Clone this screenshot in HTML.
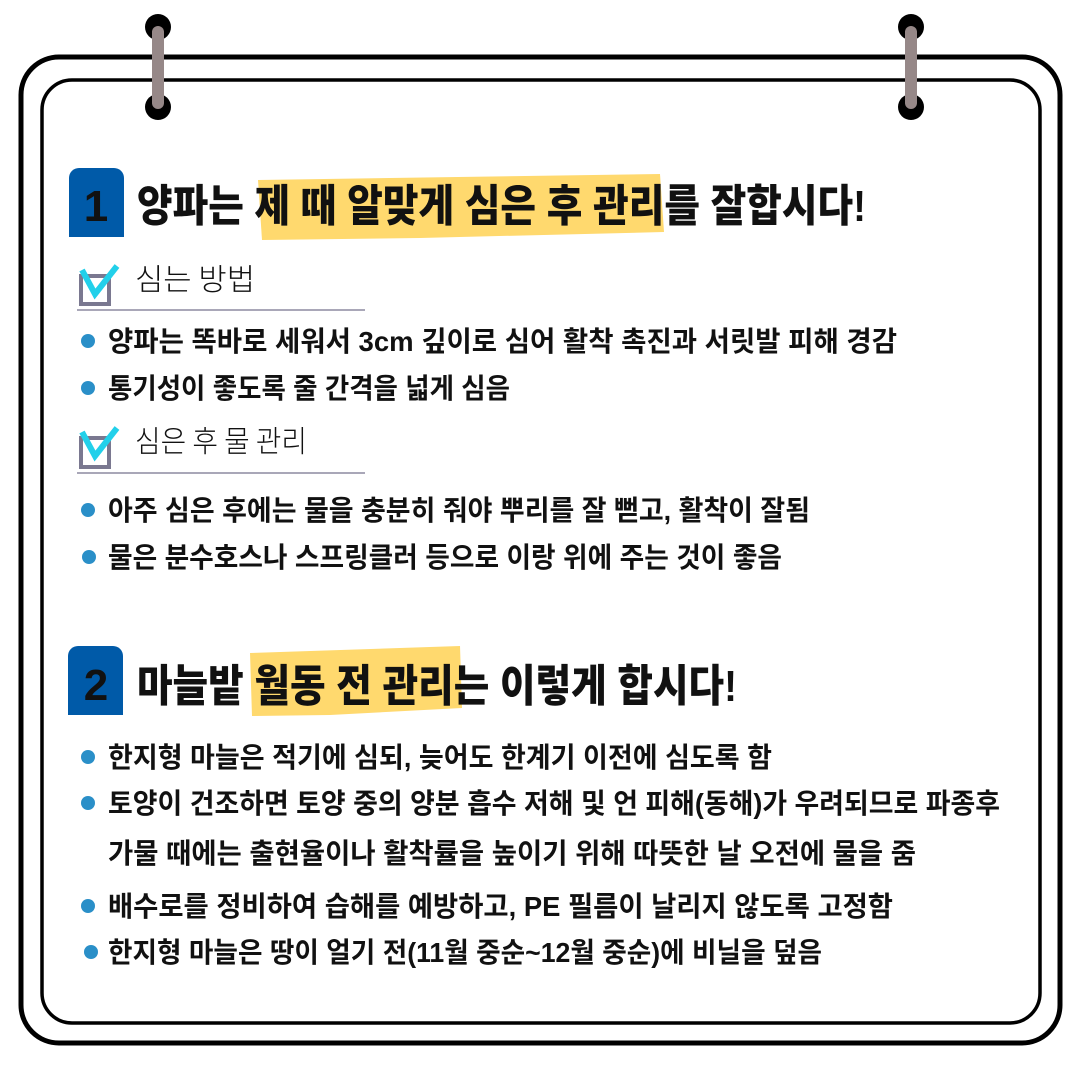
<!DOCTYPE html>
<html><head><meta charset="utf-8"><style>
html,body{margin:0;padding:0;background:#fff;}
svg{display:block;}
text{font-family:"Liberation Sans","Noto Sans CJK KR",sans-serif;}
.t{font-weight:900;font-size:44px;fill:#111;}
.b{font-weight:700;font-size:28px;fill:#111;}
.h{font-weight:300;font-size:30px;fill:#111;font-family:"Noto Sans CJK KR",sans-serif;}
</style></head><body>
<svg width="1080" height="1080" viewBox="0 0 1080 1080" xmlns="http://www.w3.org/2000/svg">
<rect x="21" y="57" width="1039" height="986" rx="38" fill="#fff" stroke="#000" stroke-width="5"/>
<rect x="42" y="80" width="998" height="943" rx="30" fill="none" stroke="#000" stroke-width="3.5"/>
<g>
<circle cx="158" cy="27" r="13" fill="#000"/><circle cx="158" cy="107" r="13" fill="#000"/>
<line x1="158" y1="32" x2="158" y2="103" stroke="#968888" stroke-width="12" stroke-linecap="round"/>
<circle cx="911" cy="27" r="13" fill="#000"/><circle cx="911" cy="107" r="13" fill="#000"/>
<line x1="911" y1="32" x2="911" y2="103" stroke="#968888" stroke-width="12" stroke-linecap="round"/>
</g>
<path d="M258 180 L660 174 L664 232 L420 238 L262 240 Z" fill="#ffd96e"/>
<path d="M80 168 h34 a10 10 0 0 1 10 10 v59 h-55 v-59 a10 10 0 0 1 10 -10z" fill="#005aa8"/>
<text x="96" y="221" text-anchor="middle" class="t" style="font-size:44px">1</text>
<text x="137" y="221" class="t" textLength="729" lengthAdjust="spacingAndGlyphs">양파는 제 때 알맞게 심은 후 관리를 잘합시다!</text>
<rect x="81" y="276" width="28" height="28" fill="none" stroke="#7a7890" stroke-width="4"/>
<path d="M82 270 L95 294 L117 266" fill="none" stroke="#22d0ea" stroke-width="6"/>
<text x="135" y="290" class="h" textLength="120" lengthAdjust="spacingAndGlyphs">심는 방법</text>
<line x1="77" y1="310" x2="365" y2="310" stroke="#a9a7b8" stroke-width="2"/>
<rect x="81" y="438" width="28" height="29" fill="none" stroke="#7a7890" stroke-width="4"/>
<path d="M82 432 L95 456 L117 428" fill="none" stroke="#22d0ea" stroke-width="6"/>
<text x="135" y="452" class="h" textLength="172" lengthAdjust="spacingAndGlyphs">심은 후 물 관리</text>
<line x1="77" y1="473" x2="365" y2="473" stroke="#a9a7b8" stroke-width="2"/>
<g fill="#2a8fc8">
<circle cx="88" cy="341" r="7"/><circle cx="88" cy="388" r="7"/>
<circle cx="88" cy="510" r="7"/><circle cx="89" cy="557" r="7"/>
<circle cx="88" cy="757" r="7"/><circle cx="88" cy="803" r="7"/>
<circle cx="88" cy="906" r="7"/><circle cx="91" cy="952" r="7"/>
</g>
<text x="108" y="351" class="b" textLength="789" lengthAdjust="spacingAndGlyphs">양파는 똑바로 세워서 3cm 깊이로 심어 활착 촉진과 서릿발 피해 경감</text>
<text x="108" y="398" class="b" textLength="402" lengthAdjust="spacingAndGlyphs">통기성이 좋도록 줄 간격을 넓게 심음</text>
<text x="108" y="520" class="b" textLength="702" lengthAdjust="spacingAndGlyphs">아주 심은 후에는 물을 충분히 줘야 뿌리를 잘 뻗고, 활착이 잘됨</text>
<text x="108" y="567" class="b" textLength="674" lengthAdjust="spacingAndGlyphs">물은 분수호스나 스프링클러 등으로 이랑 위에 주는 것이 좋음</text>
<path d="M250 653 L460 646 L462 708 L330 715 L252 716 Z" fill="#ffd96e"/>
<path d="M78 646 h35 a10 10 0 0 1 10 10 v59 h-55 v-59 a10 10 0 0 1 10 -10z" fill="#005aa8"/>
<text x="96" y="700" text-anchor="middle" class="t" style="font-size:44px">2</text>
<text x="137" y="701" class="t" textLength="600" lengthAdjust="spacingAndGlyphs">마늘밭 월동 전 관리는 이렇게 합시다!</text>
<text x="108" y="767" class="b" textLength="664" lengthAdjust="spacingAndGlyphs">한지형 마늘은 적기에 심되, 늦어도 한계기 이전에 심도록 함</text>
<text x="108" y="813" class="b" textLength="892" lengthAdjust="spacingAndGlyphs">토양이 건조하면 토양 중의 양분 흡수 저해 및 언 피해(동해)가 우려되므로 파종후</text>
<text x="108" y="863" class="b" textLength="808" lengthAdjust="spacingAndGlyphs">가물 때에는 출현율이나 활착률을 높이기 위해 따뜻한 날 오전에 물을 줌</text>
<text x="108" y="916" class="b" textLength="785" lengthAdjust="spacingAndGlyphs">배수로를 정비하여 습해를 예방하고, PE 필름이 날리지 않도록 고정함</text>
<text x="108" y="962" class="b" textLength="714" lengthAdjust="spacingAndGlyphs">한지형 마늘은 땅이 얼기 전(11월 중순~12월 중순)에 비닐을 덮음</text>
</svg>
</body></html>
